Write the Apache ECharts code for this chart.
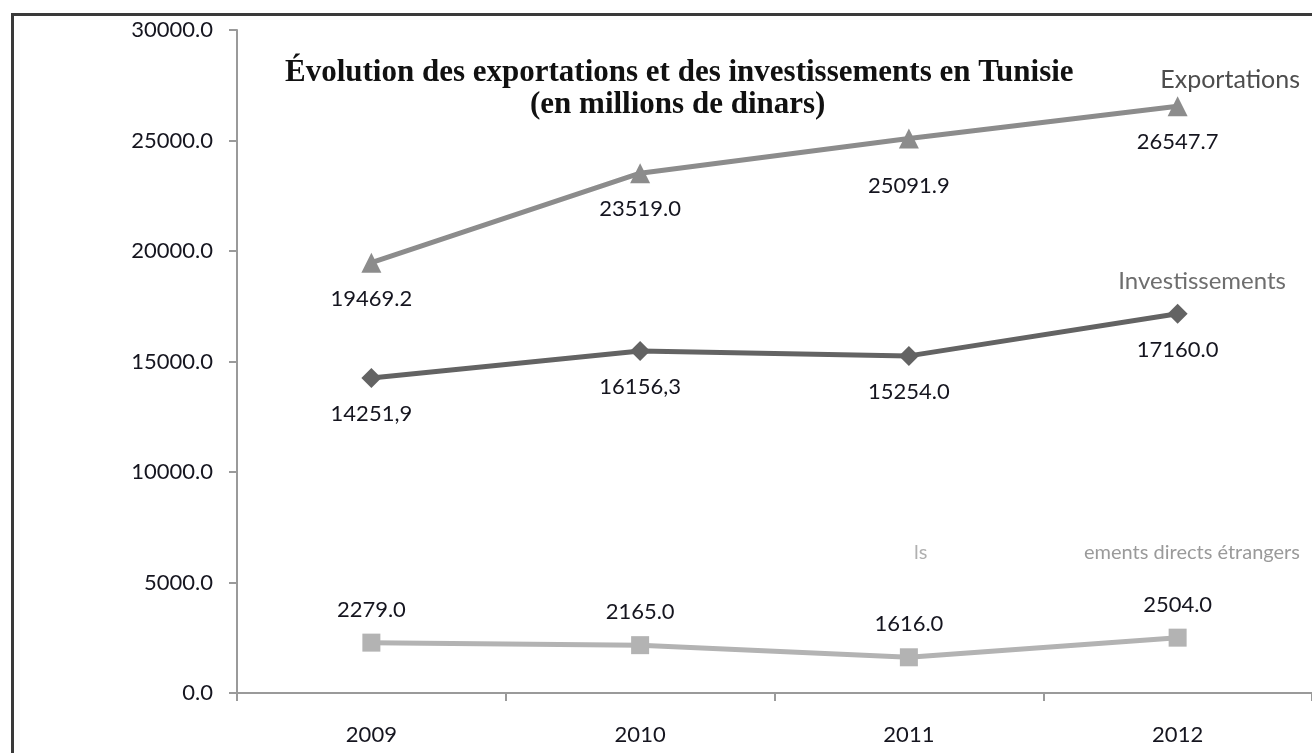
<!DOCTYPE html>
<html>
<head>
<meta charset="utf-8">
<script src="https://cdn.jsdelivr.net/npm/echarts@6/dist/echarts.min.js"></script>
<style>
  html, body { margin: 0; padding: 0; background: #fff; }
  #chart { width: 1312px; height: 753px; }
</style>
</head>
<body>
<div id="chart"></div>
<script>
// données
const years = ["2009", "2010", "2011", "2012"];
const exportations = [19469.2, 23519.0, 25091.9, 26547.7];
const investissements = [14251.9, 15480.0, 15254.0, 17160.0];
const ide = [2279.0, 2165.0, 1616.0, 2504.0];
// textes des étiquettes tels qu'imprimés
const exportLabels = ["19469.2", "23519.0", "25091.9", "26547.7"];
const investLabels = ["14251,9", "16156,3", "15254.0", "17160.0"];
const ideLabels = ["2279.0", "2165.0", "1616.0", "2504.0"];

const sans = "Lato, 'Open Sans', sans-serif";
const labelFont = { fontFamily: sans, fontSize: 22, color: "#15151f" };

function lineSeries(name, data, labels, color, symbol, size, pos, dist, extraDist) {
  return {
    name: name,
    type: "line",
    // extraDist : décalage d'étiquette propre à certains points
    data: data.map((v, i) => (extraDist && extraDist[i]) ? { value: v, label: { distance: dist + extraDist[i] } } : v),
    symbol: symbol,
    symbolSize: size,
    lineStyle: { color: color, width: 5 },
    itemStyle: { color: color },
    label: Object.assign({
      show: true,
      position: pos,
      distance: dist,
      formatter: (p) => labels[p.dataIndex]
    }, labelFont),
    animation: false
  };
}

const chart = echarts.init(document.getElementById("chart"), null, { renderer: "canvas" });

chart.setOption({
  backgroundColor: "#fff",
  grid: { left: 237, top: 30, width: 1084, height: 663 },
  xAxis: {
    type: "category",
    data: years,
    boundaryGap: true,
    axisLine: { lineStyle: { color: "#9a9a9a", width: 2 } },
    axisTick: { show: true, length: 8, lineStyle: { color: "#9a9a9a", width: 2 } },
    axisLabel: { margin: 31, fontFamily: sans, fontSize: 22, color: "#15151f" },
    splitLine: { show: false }
  },
  yAxis: {
    type: "value",
    min: 0,
    max: 30000,
    interval: 5000,
    axisLine: { show: true, lineStyle: { color: "#9a9a9a", width: 2 } },
    axisTick: { show: true, length: 8, lineStyle: { color: "#9a9a9a", width: 2 } },
    axisLabel: {
      margin: 24,
      formatter: (v) => v.toFixed(1),
      fontFamily: sans,
      fontSize: 22,
      color: "#15151f"
    },
    splitLine: { show: false }
  },
  series: [
    lineSeries("Exportations", exportations, exportLabels, "#8c8c8c", "triangle", 20, "bottom", 15, [0, 0, 11, 0]),
    lineSeries("Investissements", investissements, investLabels, "#636363", "diamond", 20, "bottom", 15),
    lineSeries("Investissements directs étrangers", ide, ideLabels, "#b3b3b3", "rect", 18, "top", 13)
  ],
  graphic: [
    {
      type: "rect",
      left: 10, top: 12,
      shape: { width: 1400, height: 800 },
      style: { fill: "none", stroke: "#3a3a3a", lineWidth: 3 },
      silent: true
    },
    {
      type: "text",
      left: 285,
      top: 57,
      style: {
        text: "Évolution des exportations et des investissements en Tunisie",
        font: "bold 31px 'Liberation Serif', 'DejaVu Serif', serif",
        fill: "#111"
      }
    },
    {
      type: "text",
      left: 530,
      top: 89,
      style: {
        text: "(en millions de dinars)",
        font: "bold 31px 'Liberation Serif', 'DejaVu Serif', serif",
        fill: "#111"
      }
    },
    {
      type: "text",
      right: 12, top: 67,
      style: { text: "Exportations", font: "25px " + sans, fill: "#4d4d4d" }
    },
    {
      type: "text",
      right: 26, top: 269,
      style: { text: "Investissements", font: "24px " + sans, fill: "#6e6e6e" }
    },
    {
      type: "text",
      right: 12, top: 543,
      style: { text: "ements directs étrangers", font: "20px " + sans, fill: "#9a9a9a" }
    },
    {
      type: "text",
      left: 914, top: 543,
      style: { text: "ls", font: "20px " + sans, fill: "#b0b0b0" }
    }
  ]
});
</script>
</body>
</html>
